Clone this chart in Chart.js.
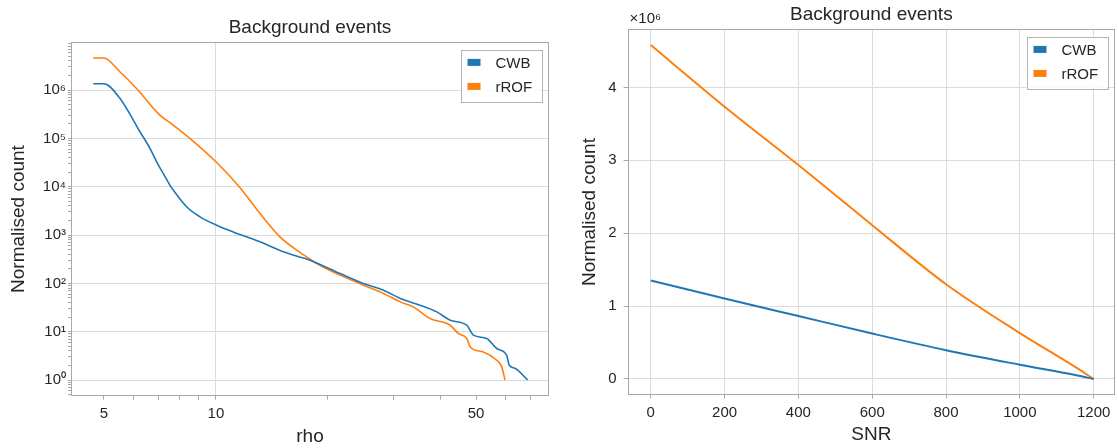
<!DOCTYPE html>
<html>
<head>
<meta charset="utf-8">
<script src="https://cdn.jsdelivr.net/npm/chart.js@4.4.1/dist/chart.umd.min.js"></script>
<style>
  html, body { margin: 0; padding: 0; background: #fff; }
  #wrap { position: relative; width: 1118px; height: 448px; }
  #rhoChart { position: absolute; left: 0; top: 0; }
  #snrChart { position: absolute; left: 575px; top: 0; }
</style>
</head>
<body>
<div id="wrap">
  <canvas id="rhoChart" width="575" height="448"></canvas>
  <canvas id="snrChart" width="543" height="448"></canvas>
</div>
<script>
// background counts above threshold, per pipeline
const rhoCWB = [4.68, 5.0, 5.52, 6.25, 6.65, 6.93, 7.22, 7.52, 7.68, 8.34, 9.06, 10.04, 11.6, 13.13, 15.16, 17.89, 21.55, 24.9, 28.2, 31.3, 35.3, 39.2, 42.6, 47.2, 49.2, 53.4, 56.8, 60.4, 61.4, 63.6, 68.8];
const countCWB = [1.35e6, 1.35e6, 6.73e5, 1.37e5, 6.21e4, 3.28e4, 1.88e4, 1.08e4, 8.51e3, 3.84e3, 2.38e3, 1.60e3, 1.03e3, 723, 449, 302, 160, 99.5, 72.3, 48.7, 35.4, 25.7, 17.3, 13.6, 8.47, 7.23, 4.49, 3.26, 2.02, 1.75, 1.0];

const rhoROF = [4.68, 5.0, 5.52, 6.12, 7.07, 7.68, 8.51, 10.0, 11.55, 13.13, 14.86, 16.48, 17.81, 18.66, 21.55, 24.9, 28.2, 31.3, 33.9, 37.6, 42.6, 44.8, 47.2, 48.2, 52.3, 56.8, 58.6, 59.8];
const countROF = [4.6e6, 4.6e6, 2.39e6, 1.08e6, 3.03e5, 1.89e5, 1.0e5, 3.28e4, 1.0e4, 2.80e3, 919, 487, 328, 258, 148, 91.8, 61.8, 41.4, 32.6, 18.7, 13.6, 9.18, 7.23, 4.84, 3.82, 2.57, 1.87, 1.0];

const snrValues = [0, 200, 400, 600, 800, 1000, 1150, 1200];
const snrCWB = [1.35e6, 1.105e6, 0.864e6, 0.623e6, 0.395e6, 0.196e6, 0.055e6, 0];
const snrROF = [4.58e6, 3.735e6, 2.935e6, 2.11e6, 1.30e6, 0.63e6, 0.165e6, 0];

const rhoTicks = [5, 6, 7, 8, 9, 10, 20, 30, 40, 50, 60, 70];
const rhoLabels = [5, 10, 50];
const snrTicks = [0, 200, 400, 600, 800, 1000, 1200];
const countTicks = [0, 1e6, 2e6, 3e6, 4e6];

const labels = ["CWB", "rROF"];
const colors = ["#1f77b4", "#ff7f0e"];
const title = "Background events";

const FONT = "'Liberation Sans', Arial, Helvetica, sans-serif";
const textColor = "#262626";
const gridColor = "#dcdcdc";
const spineColor = "#a8a8a8";

Chart.defaults.font.family = FONT;
Chart.defaults.color = textColor;

const SUP = { "0": "⁰", "1": "¹", "2": "²", "3": "³", "4": "⁴", "5": "⁵", "6": "⁶", "7": "⁷", "8": "⁸", "9": "⁹", "-": "⁻" };
function sup(n) {
  return String(n).split("").map(c => SUP[c]).join("");
}

function isDecade(v) {
  let e = Math.round(Math.log10(v));
  return Math.abs(v - Math.pow(10, e)) < 1e-6 * v;
}

function toPoints(xs, ys) {
  return xs.map((x, i) => ({ x: x, y: ys[i] }));
}

// frame, title, legend and offset text drawn around the plot area
const decorPlugin = {
  id: "decor",
  afterDatasetsDraw(chart, args, opts) {
    const ctx = chart.ctx;
    const a = chart.chartArea;
    ctx.save();

    ctx.strokeStyle = spineColor;
    ctx.lineWidth = 1;
    ctx.strokeRect(Math.round(a.left) + 0.5, Math.round(a.top) + 0.5,
      Math.round(a.right - a.left) - 1, Math.round(a.bottom - a.top));

    ctx.fillStyle = textColor;
    ctx.font = "19px " + FONT;
    ctx.textAlign = "center";
    ctx.textBaseline = "middle";
    ctx.fillText(title, (a.left + a.right) / 2, opts.titleY);

    if (opts.offsetText) {
      ctx.font = "15px " + FONT;
      ctx.textAlign = "left";
      ctx.fillText(opts.offsetText, a.left + 2, a.top - 11);
    }

    // legend box
    const w = 81, h = 52;
    const bx = a.right - 7.5 - w;
    const by = a.top + 7.5;
    ctx.fillStyle = "rgba(255,255,255,0.85)";
    ctx.fillRect(bx, by, w, h);
    ctx.strokeStyle = "#b4b4b4";
    ctx.strokeRect(Math.round(bx) + 0.5, Math.round(by) + 0.5, w, h);
    ctx.font = "15px " + FONT;
    ctx.textAlign = "left";
    chart.data.datasets.forEach((ds, i) => {
      const cy = by + 12.5 + i * 24;
      ctx.fillStyle = ds.borderColor;
      ctx.fillRect(bx + 7, cy - 3.5, 13, 7);
      ctx.fillStyle = textColor;
      ctx.fillText(ds.label, bx + 35, cy + 1);
    });

    ctx.restore();
  }
};

function makeDatasets(xsA, ysA, xsB, ysB, width) {
  return [
    { label: labels[0], data: toPoints(xsA, ysA), borderColor: colors[0], borderWidth: width, pointRadius: 0, cubicInterpolationMode: "monotone", fill: false },
    { label: labels[1], data: toPoints(xsB, ysB), borderColor: colors[1], borderWidth: width, pointRadius: 0, cubicInterpolationMode: "monotone", fill: false }
  ];
}

// log-log chart of counts versus rho
new Chart(document.getElementById("rhoChart"), {
  type: "line",
  data: { datasets: makeDatasets(rhoCWB, countCWB, rhoROF, countROF, 1.6) },
  plugins: [decorPlugin],
  options: {
    responsive: false,
    animation: false,
    layout: { padding: { top: 42.4, right: 26, left: 0, bottom: 0 } },
    plugins: {
      legend: { display: false },
      title: { display: false },
      tooltip: { enabled: false },
      decor: { titleY: 28 }
    },
    scales: {
      x: {
        type: "logarithmic",
        min: 4.08,
        max: 78.5,
        afterBuildTicks: (scale) => {
          scale.ticks = rhoTicks.map(v => ({ value: v }));
        },
        afterFit: (scale) => { scale.height = 52.3; },
        ticks: {
          autoSkip: false,
          maxRotation: 0,
          padding: 5,
          font: { size: 15 },
          color: textColor,
          callback: (v) => rhoLabels.includes(v) ? String(v) : ""
        },
        grid: {
          color: (c) => (c.tick && c.tick.value === 10) ? gridColor : "rgba(0,0,0,0)",
          tickColor: spineColor,
          tickLength: 4,
          drawTicks: true
        },
        border: { display: false },
        title: { display: true, text: "rho", font: { size: 19 }, color: textColor, padding: { top: 0, bottom: 0 } }
      },
      y: {
        type: "logarithmic",
        min: 0.474,
        max: 9.68e6,
        afterBuildTicks: (scale) => {
          const t = [];
          for (let d = -1; d <= 6; d++) {
            for (let m = 1; m <= 9; m++) {
              const v = m * Math.pow(10, d);
              if (v >= 0.474 && v <= 9.68e6) t.push({ value: v });
            }
          }
          scale.ticks = t;
        },
        afterFit: (scale) => { scale.width = 71; },
        ticks: {
          autoSkip: false,
          padding: 2,
          font: { size: 15 },
          color: textColor,
          callback: (v) => isDecade(v) ? "10" + sup(Math.round(Math.log10(v))) : ""
        },
        grid: {
          color: (c) => (c.tick && isDecade(c.tick.value)) ? gridColor : "rgba(0,0,0,0)",
          tickColor: spineColor,
          tickLength: 3,
          drawTicks: true
        },
        border: { display: false },
        title: { display: true, text: "Normalised count", font: { size: 19 }, color: textColor, padding: { top: 7, bottom: 0 } }
      }
    }
  }
});

// linear chart of counts versus SNR
new Chart(document.getElementById("snrChart"), {
  type: "line",
  data: { datasets: makeDatasets(snrValues, snrCWB, snrValues, snrROF, 2) },
  plugins: [decorPlugin],
  options: {
    responsive: false,
    animation: false,
    layout: { padding: { top: 29.4, right: 3, left: 0, bottom: 0 } },
    plugins: {
      legend: { display: false },
      title: { display: false },
      tooltip: { enabled: false },
      decor: { titleY: 15, offsetText: "×10" + sup(6) }
    },
    scales: {
      x: {
        type: "linear",
        min: -62.7,
        max: 1257.8,
        afterBuildTicks: (scale) => {
          scale.ticks = snrTicks.map(v => ({ value: v }));
        },
        afterFit: (scale) => { scale.height = 53.4; },
        ticks: {
          autoSkip: false,
          maxRotation: 0,
          padding: 5,
          font: { size: 15 },
          color: textColor,
          callback: (v) => String(v)
        },
        grid: { color: gridColor, tickColor: spineColor, tickLength: 4 },
        border: { display: false },
        title: { display: true, text: "SNR", font: { size: 19 }, color: textColor, padding: { top: 0, bottom: 1.5 } }
      },
      y: {
        type: "linear",
        min: -0.214e6,
        max: 4.795e6,
        afterBuildTicks: (scale) => {
          scale.ticks = countTicks.map(v => ({ value: v }));
        },
        afterFit: (scale) => { scale.width = 52.6; },
        ticks: {
          autoSkip: false,
          padding: 7,
          font: { size: 15 },
          color: textColor,
          callback: (v) => String(Math.round(v / 1e6))
        },
        grid: { color: gridColor, tickColor: spineColor, tickLength: 4 },
        border: { display: false },
        title: { display: true, text: "Normalised count", font: { size: 19 }, color: textColor, padding: { top: 3, bottom: 0 } }
      }
    }
  }
});
</script>
</body>
</html>
